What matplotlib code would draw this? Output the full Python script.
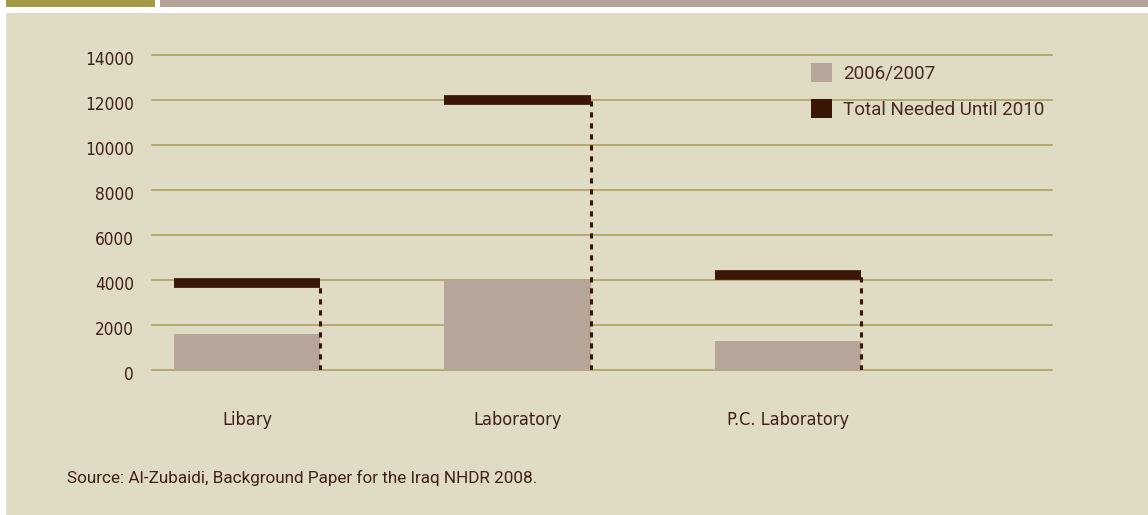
import matplotlib
matplotlib.use("Agg")
import matplotlib.pyplot as plt
import matplotlib.transforms as mtransforms
from matplotlib.patches import Rectangle
from matplotlib.font_manager import fontManager, FontProperties

categories = ["Libary", "Laboratory", "P.C. Laboratory"]
current_2006_2007 = [1580, 4000, 1300]
needed_until_2010 = [3870, 12000, 4220]
y_ticks = [0, 2000, 4000, 6000, 8000, 10000, 12000, 14000]
legend_labels = ["2006/2007", "Total Needed Until 2010"]
source_text = "Source: Al-Zubaidi, Background Paper for the Iraq NHDR 2008."

BG = "#e0dbc5"
BAR_LIGHT = "#b6a599"
BAR_DARK = "#3a1607"
GRID = "#a89d55"
TEXT = "#3f2016"


def narrow_font(size):
    """Pick a condensed sans face if the system has one."""
    wanted = ["LiberationSansNarrow-Regular", "DejaVuSansCondensed.ttf"]
    for key in wanted:
        for f in fontManager.ttflist:
            if key in f.fname:
                return FontProperties(fname=f.fname, size=size)
    return FontProperties(family="Liberation Sans", size=size)


W, H = 1148, 515
fig = plt.figure(figsize=(W / 100, H / 100), dpi=100)
fig.patch.set_facecolor("white")

# page furniture: beige panel and the two header strips
fig.add_artist(Rectangle((6 / W, 0), 1 - 6 / W, 1 - 13 / H, transform=fig.transFigure,
                         facecolor=BG, edgecolor="none", zorder=0))
fig.add_artist(Rectangle((6 / W, 1 - 7 / H), (155 - 6) / W, 7 / H, transform=fig.transFigure,
                         facecolor="#a39a48", edgecolor="none", zorder=0))
fig.add_artist(Rectangle((160 / W, 1 - 7 / H), 1 - 160 / W, 7 / H, transform=fig.transFigure,
                         facecolor="#b6a498", edgecolor="none", zorder=0))

# axes placed so that 0 sits at y=370px and 14000 at y=55px
x0, x1 = 152, 1052
y_top, y_bot = 55, 370
ax = fig.add_axes([x0 / W, 1 - y_bot / H, (x1 - x0) / W, (y_bot - y_top) / H])
ax.set_facecolor("none")

pos = list(range(len(categories)))
width = 0.54
ax.set_xlim(-0.351, 2.976)
ax.set_ylim(0, 14000)

ax.bar(pos, current_2006_2007, width=width, color=BAR_LIGHT, zorder=2)

for p, v in zip(pos, needed_until_2010):
    left, right = p - width / 2, p + width / 2
    ax.plot([left, right], [v, v], color=BAR_DARK, linewidth=7,
            solid_capstyle="butt", zorder=3)
    ax.plot([right, right], [0, v], color=BAR_DARK, linewidth=2.2,
            linestyle=(0, (1.7, 1.9)), dash_capstyle="butt", zorder=3)

ax.set_yticks(y_ticks)
ax.yaxis.grid(True, color=GRID, linewidth=1.1, zorder=1)
ax.set_axisbelow(True)
for gl in ax.get_ygridlines():
    gl.set_clip_on(False)
ax.set_xticks([])
ax.tick_params(axis="y", length=0, pad=13, labelcolor=TEXT)
tick_font = narrow_font(12.3)
shift_down = mtransforms.ScaledTranslation(0, -3 / 100, fig.dpi_scale_trans)
for lbl in ax.get_yticklabels():
    lbl.set_fontproperties(tick_font)
    lbl.set_transform(lbl.get_transform() + shift_down)
for s in ax.spines.values():
    s.set_visible(False)

# category labels beneath the plot
cat_font = narrow_font(13)
for p, name in zip(pos, categories):
    ax.text(p, -2230, name, ha="center", va="center",
            color=TEXT, fontproperties=cat_font)

# legend
handles = [Rectangle((0, 0), 1, 1, facecolor=BAR_LIGHT),
           Rectangle((0, 0), 1, 1, facecolor=BAR_DARK)]
leg = fig.legend(handles, legend_labels, loc="upper left",
                 bbox_to_anchor=(811 / W, 1 - 63 / H), frameon=False,
                 borderpad=0, borderaxespad=0,
                 handlelength=1.1, handleheight=1.15, handletextpad=0.58,
                 labelspacing=0.85,
                 prop={"family": "Roboto", "size": 13.6})
for t in leg.get_texts():
    t.set_color("#4a2b20")

fig.text(67 / W, 1 - 478 / H, source_text, fontsize=12.3, color=TEXT,
         family="Roboto", va="center", ha="left")

fig.savefig("out.png", dpi=100, facecolor=fig.get_facecolor())
